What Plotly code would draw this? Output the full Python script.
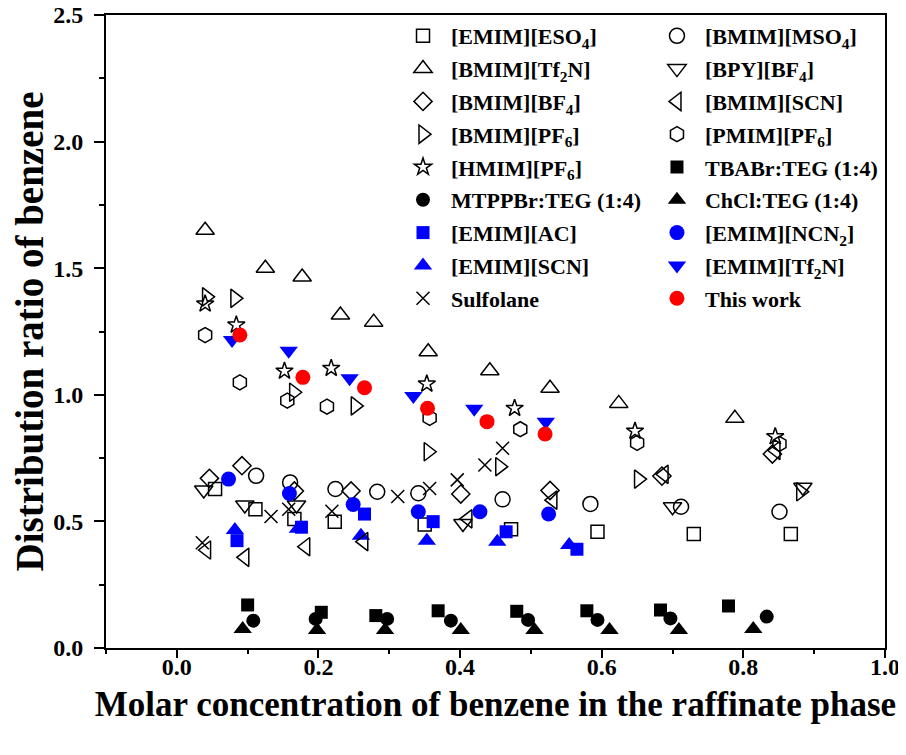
import plotly.graph_objects as go

# ---------------- data ----------------
eso4_x = [0.054, 0.111, 0.166, 0.223, 0.350, 0.472, 0.594, 0.730, 0.867]
eso4_y = [0.628, 0.548, 0.509, 0.499, 0.488, 0.469, 0.459, 0.450, 0.450]

mso4_x = [0.112, 0.160, 0.224, 0.283, 0.341, 0.460, 0.584, 0.712, 0.851]
mso4_y = [0.680, 0.654, 0.628, 0.617, 0.611, 0.587, 0.569, 0.558, 0.538]

bmimtf2n_x = [0.040, 0.125, 0.177, 0.231, 0.278, 0.355, 0.442, 0.527, 0.624, 0.788]
bmimtf2n_y = [1.650, 1.500, 1.465, 1.315, 1.287, 1.170, 1.095, 1.026, 0.966, 0.907]

bpy_x = [0.038, 0.096, 0.169, 0.404, 0.700, 0.884]
bpy_y = [0.624, 0.565, 0.565, 0.492, 0.558, 0.635]

bf4_x = [0.046, 0.092, 0.166, 0.246, 0.401, 0.527, 0.685, 0.841]
bf4_y = [0.670, 0.720, 0.620, 0.620, 0.608, 0.622, 0.679, 0.766]

scn_x = [0.042, 0.096, 0.182, 0.264, 0.411, 0.531, 0.688, 0.846]
scn_y = [0.387, 0.358, 0.400, 0.420, 0.510, 0.584, 0.686, 0.780]

bpf6_x = [0.042, 0.082, 0.165, 0.252, 0.355, 0.456, 0.652, 0.881]
bpf6_y = [1.387, 1.381, 1.010, 0.956, 0.775, 0.716, 0.667, 0.617]

ppf6_x = [0.040, 0.089, 0.156, 0.212, 0.357, 0.485, 0.650, 0.851]
ppf6_y = [1.236, 1.049, 0.977, 0.953, 0.909, 0.864, 0.810, 0.806]

hpf6_x = [0.040, 0.084, 0.152, 0.218, 0.353, 0.477, 0.647, 0.845]
hpf6_y = [1.359, 1.276, 1.094, 1.105, 1.043, 0.947, 0.857, 0.835]

tbabr_x = [0.100, 0.204, 0.281, 0.369, 0.480, 0.579, 0.683, 0.779]
tbabr_y = [0.170, 0.141, 0.128, 0.147, 0.145, 0.147, 0.150, 0.166]

mtppbr_x = [0.108, 0.196, 0.297, 0.387, 0.496, 0.594, 0.697, 0.833]
mtppbr_y = [0.108, 0.115, 0.115, 0.108, 0.111, 0.111, 0.117, 0.124]

chcl_x = [0.093, 0.198, 0.294, 0.401, 0.505, 0.611, 0.709, 0.814]
chcl_y = [0.075, 0.071, 0.071, 0.071, 0.071, 0.071, 0.071, 0.075]

eac_x = [0.085, 0.176, 0.265, 0.362, 0.465, 0.565]
eac_y = [0.424, 0.477, 0.529, 0.499, 0.459, 0.390]

encn_x = [0.073, 0.159, 0.249, 0.341, 0.428, 0.525]
encn_y = [0.667, 0.610, 0.567, 0.538, 0.538, 0.529]

escn_x = [0.082, 0.171, 0.260, 0.353, 0.4525, 0.554]
escn_y = [0.466, 0.471, 0.443, 0.424, 0.420, 0.407]

etf2n_x = [0.078, 0.158, 0.244, 0.334, 0.420, 0.521]
etf2n_y = [1.216, 1.174, 1.065, 0.995, 0.945, 0.894]

sulf_x = [0.036, 0.133, 0.158, 0.219, 0.312, 0.357, 0.396, 0.435, 0.460]
sulf_y = [0.416, 0.519, 0.548, 0.540, 0.598, 0.630, 0.664, 0.723, 0.789]

tw_x = [0.089, 0.178, 0.265, 0.354, 0.438, 0.520]
tw_y = [1.236, 1.069, 1.028, 0.947, 0.894, 0.845]

x_ticks = [0.0, 0.2, 0.4, 0.6, 0.8, 1.0]
y_ticks = [0.0, 0.5, 1.0, 1.5, 2.0, 2.5]

# ---------------- figure ----------------
FONT = "Liberation Serif, Times New Roman, serif"
BLUE = "#0000FF"
RED = "#FF0000"

fig = go.Figure()

def add(x, y, name, symbol, size, color, legend, lw=1.5):
    open_ = symbol.endswith("-open")
    mk = dict(symbol=symbol, size=size, color=color,
              line=dict(width=lw if open_ else 0, color=color))
    fig.add_trace(go.Scatter(x=x, y=y, mode="markers", name=f"<b>{name}</b>", marker=mk,
                             legend=legend, legendgroup=name))

# column 1 (legend), column 2 (legend2)
add(eso4_x, eso4_y, "[EMIM][ESO<sub>4</sub>]", "square-open", 13, "black", "legend")
add(bmimtf2n_x, bmimtf2n_y, "[BMIM][Tf<sub>2</sub>N]", "triangle-up-open", 16, "black", "legend")
add(bf4_x, bf4_y, "[BMIM][BF<sub>4</sub>]", "diamond-open", 14, "black", "legend")
add(bpf6_x, bpf6_y, "[BMIM][PF<sub>6</sub>]", "triangle-right-open", 16, "black", "legend")
add(hpf6_x, hpf6_y, "[HMIM][PF<sub>6</sub>]", "star-open", 13, "black", "legend")
add(mtppbr_x, mtppbr_y, "MTPPBr:TEG (1:4)", "circle", 14, "black", "legend")
add(eac_x, eac_y, "[EMIM][AC]", "square", 13, BLUE, "legend")
add(escn_x, escn_y, "[EMIM][SCN]", "triangle-up", 16, BLUE, "legend")
add(sulf_x, sulf_y, "Sulfolane", "x-thin-open", 13, "black", "legend")

add(mso4_x, mso4_y, "[BMIM][MSO<sub>4</sub>]", "circle-open", 15, "black", "legend2")
add(bpy_x, bpy_y, "[BPY][BF<sub>4</sub>]", "triangle-down-open", 16, "black", "legend2")
add(scn_x, scn_y, "[BMIM][SCN]", "triangle-left-open", 16, "black", "legend2")
add(ppf6_x, ppf6_y, "[PMIM][PF<sub>6</sub>]", "hexagon-open", 15, "black", "legend2")
add(tbabr_x, tbabr_y, "TBABr:TEG (1:4)", "square", 13, "black", "legend2")
add(chcl_x, chcl_y, "ChCl:TEG (1:4)", "triangle-up", 16, "black", "legend2")
add(encn_x, encn_y, "[EMIM][NCN<sub>2</sub>]", "circle", 15, BLUE, "legend2")
add(etf2n_x, etf2n_y, "[EMIM][Tf<sub>2</sub>N]", "triangle-down", 16, BLUE, "legend2")
add(tw_x, tw_y, "This work", "circle", 15, RED, "legend2")

leg_common = dict(font=dict(family=FONT, size=22, color="black"),
                  bgcolor="rgba(0,0,0,0)", borderwidth=0,
                  itemwidth=46, tracegroupgap=1.2,
                  xanchor="left", yanchor="top", traceorder="grouped")

axis_common = dict(showline=True, linecolor="black", linewidth=1.8, mirror=True,
                   ticks="outside", tickcolor="black", tickwidth=1.6,
                   showgrid=False, zeroline=False, automargin=False,
                   ticklabeloverflow="allow",
                   tickfont=dict(family=FONT, size=24, color="black"))

# page body has an 8px margin: figure is sized so it fits the 906x755 window
fig.update_layout(
    width=898, height=739,
    margin=dict(l=98, r=21, t=7, b=99),
    paper_bgcolor="white", plot_bgcolor="white",
    font=dict(family=FONT, color="black"),
    legend=dict(x=0.371, y=1.0, **leg_common),
    legend2=dict(x=0.697, y=1.0, **leg_common),
    xaxis=dict(range=[-0.1, 1.0], tickvals=x_ticks,
               ticktext=[f"<b>{v:.1f}</b>" for v in x_ticks], ticklen=8,
               ticklabelstandoff=-12,
               minor=dict(dtick=0.1, tick0=0, ticks="outside", ticklen=4,
                          tickcolor="black", tickwidth=1.6),
               title=dict(text="<b>Molar concentration of benzene in the raffinate phase</b>",
                          font=dict(family=FONT, size=35, color="black"), standoff=13),
               **axis_common),
    yaxis=dict(range=[0.0, 2.5], tickvals=y_ticks,
               ticktext=[f"<b>{v:.1f}</b>" for v in y_ticks], ticklen=10,
               ticklabelstandoff=6,
               minor=dict(dtick=0.25, tick0=0, ticks="outside", ticklen=5,
                          tickcolor="black", tickwidth=1.6),
               title=dict(text="<b>Distribution ratio of benzene</b>",
                          font=dict(family=FONT, size=39, color="black"), standoff=8),
               **axis_common),
)

fig.write_html("out.html")
